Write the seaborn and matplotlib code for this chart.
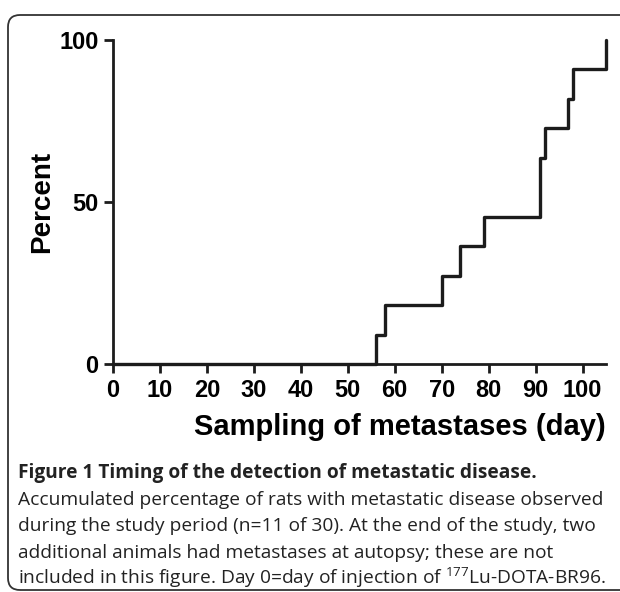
import numpy as np
import pandas as pd
import seaborn as sns
import matplotlib.pyplot as plt
from matplotlib.patches import FancyBboxPatch
from matplotlib.transforms import IdentityTransform

# dias en que se detectaron metastasis y porcentaje acumulado
dias = [0, 56, 58, 70, 74, 79, 91, 92, 97, 98, 105]
porcentaje = [0, 9.09, 18.18, 27.27, 36.36, 45.45, 63.64, 72.73, 81.82, 90.91, 100]
ticks_x = [0, 10, 20, 30, 40, 50, 60, 70, 80, 90, 100]
ticks_y = [0, 50, 100]

df = pd.DataFrame({'dia': dias, 'porcentaje': porcentaje})

sns.set_style('ticks')
plt.rcParams['font.family'] = ['Liberation Sans', 'DejaVu Sans']
plt.rcParams['mathtext.fontset'] = 'custom'
plt.rcParams['mathtext.rm'] = 'Open Sans'

color = '#1c1c1c'
fig = plt.figure(figsize=(6.2, 5.92), dpi=100)
ax = fig.add_axes([113/620, (592-364)/592, (606-113)/620, (364-40)/592])

sns.lineplot(data=df, x='dia', y='porcentaje', drawstyle='steps-post',
             color=color, linewidth=2.4, clip_on=False, ax=ax)

ax.set_xlim(0, 105)
ax.set_ylim(0, 100)
ax.set_xticks(ticks_x)
ax.set_yticks(ticks_y)
ax.tick_params(direction='out', length=6.5, width=2, color=color,
               labelsize=17, pad=4, labelcolor='black')
for lab in ax.get_xticklabels() + ax.get_yticklabels():
    lab.set_fontweight('bold')
sns.despine(ax=ax)
for s in ['left', 'bottom']:
    ax.spines[s].set_linewidth(2)
    ax.spines[s].set_color(color)

ax.set_xlabel('')
ax.set_ylabel('Percent', fontsize=20, fontweight='bold', color='black')
ax.yaxis.set_label_coords(-0.118, 0.5)
fig.text(400/620, 1 - 427/592, 'Sampling of metastases (day)', ha='center', va='center',
         fontsize=21, fontweight='bold', color='black')

# leyenda de la figura
cap = dict(family='Open Sans', fontsize=13.8, color='#222222', ha='left', va='baseline')
fig.text(18/620, 1 - 478/592, 'Figure 1 Timing of the detection of metastatic disease.',
         fontweight='bold', **cap)
lineas = ['Accumulated percentage of rats with metastatic disease observed',
          'during the study period (n=11 of 30). At the end of the study, two',
          'additional animals had metastases at autopsy; these are not',
          r'included in this figure. Day 0=day of injection of $^{\mathrm{177}}$Lu-DOTA-BR96.']
for i, txt in enumerate(lineas):
    fig.text(18/620, 1 - (505 + 26.3*i)/592, txt, **cap)

marco = FancyBboxPatch((8, 2), 700, 575, boxstyle='round,pad=0,rounding_size=12',
                       transform=IdentityTransform(), fill=False, edgecolor='#333333',
                       linewidth=1.3)
fig.patches.append(marco)

fig.savefig('out.png', dpi=100)
